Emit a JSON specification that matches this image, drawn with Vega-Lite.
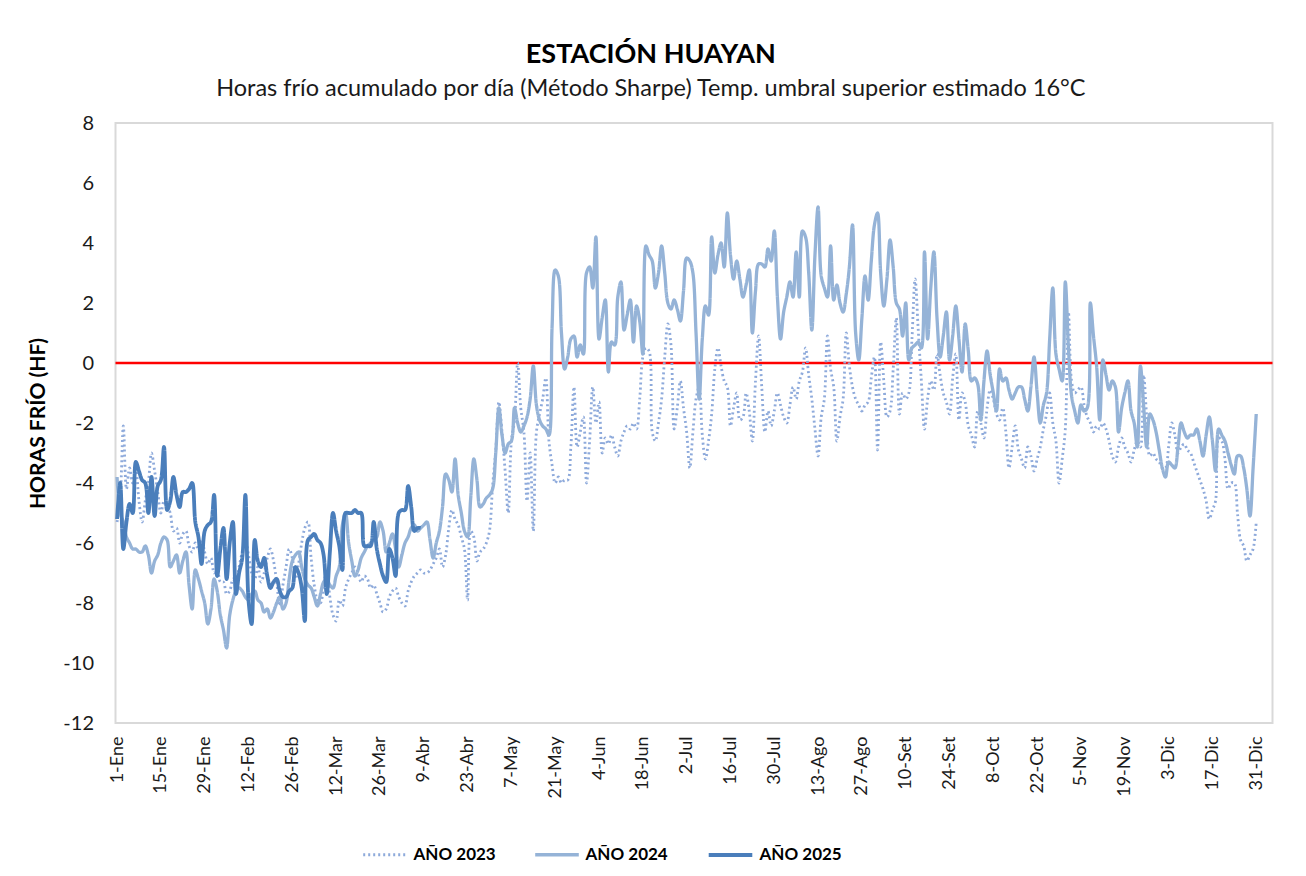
{
"$schema": "https://vega.github.io/schema/vega-lite/v6.json",
"width": 1157, "height": 600,
"autosize": "none",
"padding": {"left": 115.5, "top": 123, "right": 33.5, "bottom": 153},
"background": "white",
"config": {"view": {"stroke": "#D9D9D9", "strokeWidth": 2}, "font": "Lato"},
"title": {"text": "ESTACIÓN HUAYAN", "subtitle": "Horas frío acumulado por día (Método Sharpe) Temp. umbral superior estimado 16°C", "anchor": "middle", "frame": "bounds", "fontSize": 27, "fontWeight": "bold", "color": "#000000", "subtitleFontSize": 23.5, "subtitleColor": "#1a1a1a", "subtitlePadding": 8, "offset": 12},
"layer": [
{"data": {"values": [{"z": 0}]}, "mark": {"type": "rule", "color": "#FF0000", "strokeWidth": 2.5}, "encoding": {"y": {"field": "z", "type": "quantitative", "scale": {"domain": [-12, 8], "nice": false}}}},
{"data": {"values": [
{"d":0,"a":-5.3,"b":-3.8,"c":-5.2},{"d":1,"a":-4.5,"b":-5.0,"c":-4.0},{"d":2,"a":-2.1,"b":-5.3,"c":-6.2},{"d":3,"a":-4.2,"b":-5.8,"c":-5.3},{"d":4,"a":-3.5,"b":-6.0,"c":-4.7},{"d":5,"a":-4.0,"b":-6.2,"c":-5.0},{"d":6,"a":-3.6,"b":-6.2,"c":-3.3},{"d":7,"a":-4.6,"b":-6.3,"c":-3.6},{"d":8,"a":-5.3,"b":-6.3,"c":-3.9},{"d":9,"a":-4.6,"b":-6.1,"c":-4.0},
{"d":10,"a":-4.0,"b":-6.4,"c":-5.0},{"d":11,"a":-3.0,"b":-7.0,"c":-3.8},{"d":12,"a":-3.6,"b":-6.6,"c":-5.1},{"d":13,"a":-4.3,"b":-6.4,"c":-4.1},{"d":14,"a":-5.0,"b":-6.0,"c":-3.9},{"d":15,"a":-4.6,"b":-5.8,"c":-2.8},{"d":16,"a":-4.8,"b":-5.9,"c":-4.9},{"d":17,"a":-5.0,"b":-6.8,"c":-4.6},{"d":18,"a":-5.6,"b":-6.6,"c":-3.8},{"d":19,"a":-5.5,"b":-6.4,"c":-4.4},
{"d":20,"a":-6.0,"b":-7.0,"c":-4.8},{"d":21,"a":-5.7,"b":-6.6,"c":-4.3},{"d":22,"a":-5.6,"b":-6.3,"c":-4.3},{"d":23,"a":-6.1,"b":-7.4,"c":-4.2},{"d":24,"a":-6.3,"b":-8.2,"c":-4.0},{"d":25,"a":-6.0,"b":-6.9,"c":-5.3},{"d":26,"a":-6.2,"b":-7.2,"c":-5.8},{"d":27,"a":-5.9,"b":-7.6,"c":-6.7},{"d":28,"a":-6.3,"b":-8.0,"c":-5.6},{"d":29,"a":-6.7,"b":-8.7,"c":-5.4},
{"d":30,"a":-6.5,"b":-8.2,"c":-5.3},{"d":31,"a":-7.0,"b":-7.2,"c":-4.4},{"d":32,"a":-6.8,"b":-7.6,"c":-7.1},{"d":33,"a":-7.3,"b":-8.4,"c":-6.2},{"d":34,"a":-7.3,"b":-8.9,"c":-5.5},{"d":35,"a":-7.7,"b":-9.5,"c":-7.2},{"d":36,"a":-7.6,"b":-8.4,"c":-6.0},{"d":37,"a":-7.2,"b":-7.9,"c":-5.3},{"d":38,"a":-7.4,"b":-7.6,"c":-7.7},{"d":39,"a":-6.8,"b":-7.5,"c":-7.0},
{"d":40,"a":-6.3,"b":-7.6,"c":-6.5},{"d":41,"a":-5.9,"b":-7.8,"c":-4.4},{"d":42,"a":-6.4,"b":-7.9,"c":-7.9},{"d":43,"a":-7.0,"b":-7.7,"c":-8.7},{"d":44,"a":-7.2,"b":-7.6,"c":-5.9},{"d":45,"a":-6.8,"b":-7.9,"c":-6.6},{"d":46,"a":-7.3,"b":-8.0,"c":-6.8},{"d":47,"a":-7.0,"b":-8.3,"c":-6.5},{"d":48,"a":-6.5,"b":-8.2,"c":-7.1},{"d":49,"a":-6.2,"b":-8.5,"c":-7.5},
{"d":50,"a":-6.6,"b":-8.3,"c":-7.3},{"d":51,"a":-7.3,"b":-8.0,"c":-7.2},{"d":52,"a":-8.1,"b":-7.8,"c":-7.6},{"d":53,"a":-7.4,"b":-8.2,"c":-7.8},{"d":54,"a":-6.8,"b":-8.0,"c":-7.8},{"d":55,"a":-6.2,"b":-7.2,"c":-7.6},{"d":56,"a":-6.5,"b":-6.6,"c":-7.5},{"d":57,"a":-7.2,"b":-6.4,"c":-6.8},{"d":58,"a":-6.7,"b":-6.3,"c":-7.0},{"d":59,"a":-6.0,"b":-6.8,"c":-7.5},
{"d":60,"a":-5.5,"b":-7.2,"c":-8.6},{"d":61,"a":-5.3,"b":-7.4,"c":-5.9},{"d":62,"a":-6.5,"b":-7.5,"c":-5.8},{"d":63,"a":-7.4,"b":-7.8,"c":-5.7},{"d":64,"a":-7.9,"b":-8.1,"c":-5.9},{"d":65,"a":-8.0,"b":-7.7,"c":-6.0},{"d":66,"a":-7.4,"b":-7.3,"c":-6.4},{"d":67,"a":-6.9,"b":-7.2,"c":-7.7},{"d":68,"a":-7.8,"b":-7.4,"c":-6.3},{"d":69,"a":-8.4,"b":-7.5,"c":-5.0},
{"d":70,"a":-8.6,"b":-7.1,"c":-5.6},{"d":71,"a":-7.9,"b":-6.8,"c":-6.1},{"d":72,"a":-8.1,"b":-5.4,"c":-6.9},{"d":73,"a":-7.5,"b":-5.0,"c":-5.0},{"d":74,"a":-7.2,"b":-6.0,"c":-5.0},{"d":75,"a":-7.0,"b":-6.6,"c":-5.0},{"d":76,"a":-6.8,"b":-7.1,"c":-4.9},{"d":77,"a":-7.0,"b":-6.9,"c":-5.0},{"d":78,"a":-7.3,"b":-6.5,"c":-5.0},{"d":79,"a":-7.1,"b":-6.3,"c":-6.1},
{"d":80,"a":-7.2,"b":-6.1,"c":-6.1},{"d":81,"a":-7.5,"b":-6.0,"c":-6.1},{"d":82,"a":-7.4,"b":-5.9,"c":-5.3},{"d":83,"a":-7.7,"b":-5.8,"c":-6.2},{"d":84,"a":-8.0,"b":-5.3,"c":-6.7},{"d":85,"a":-8.3,"b":-5.6,"c":-7.1},{"d":86,"a":-8.2,"b":-6.3,"c":-7.3},{"d":87,"a":-7.8,"b":-6.0,"c":-6.2},{"d":88,"a":-7.6,"b":-5.7,"c":-6.5},{"d":89,"a":-7.5,"b":-6.2,"c":-7.1},
{"d":90,"a":-7.8,"b":-6.8,"c":-5.0},{"d":91,"a":-8.0,"b":-6.4,"c":-4.9},{"d":92,"a":-8.1,"b":-6.0,"c":-4.9},{"d":93,"a":-7.6,"b":-5.8,"c":-4.1},{"d":94,"a":-7.3,"b":-5.5,"c":-4.8},{"d":95,"a":-7.1,"b":-5.4,"c":-5.6},{"d":96,"a":-7.0,"b":-5.6,"c":-5.5},{"d":97,"a":-6.9,"b":-5.5,"c":-5.5},{"d":98,"a":-7.0,"b":-5.4},{"d":99,"a":-7.0,"b":-5.3},
{"d":100,"a":-6.9,"b":-5.9},{"d":101,"a":-6.7,"b":-6.5},{"d":102,"a":-6.5,"b":-6.0},{"d":103,"a":-6.2,"b":-5.6},{"d":104,"a":-6.8,"b":-4.8},{"d":105,"a":-6.4,"b":-3.7},{"d":106,"a":-5.5,"b":-3.9},{"d":107,"a":-4.9,"b":-4.3},{"d":108,"a":-5.2,"b":-3.2},{"d":109,"a":-5.4,"b":-4.4},
{"d":110,"a":-5.8,"b":-5.0},{"d":111,"a":-6.2,"b":-5.6},{"d":112,"a":-7.9,"b":-5.8},{"d":113,"a":-5.6,"b":-4.5},{"d":114,"a":-5.8,"b":-3.2},{"d":115,"a":-6.6,"b":-3.9},{"d":116,"a":-6.3,"b":-4.8},{"d":117,"a":-6.2,"b":-4.7},{"d":118,"a":-6.0,"b":-4.5},{"d":119,"a":-5.6,"b":-4.4},
{"d":120,"a":-4.1,"b":-4.2},{"d":121,"a":-2.9,"b":-3.0},{"d":122,"a":-1.3,"b":-1.5},{"d":123,"a":-2.3,"b":-2.4},{"d":124,"a":-3.6,"b":-3.0},{"d":125,"a":-5.0,"b":-2.7},{"d":126,"a":-2.6,"b":-2.6},{"d":127,"a":-1.9,"b":-1.5},{"d":128,"a":0.0,"b":-2.0},{"d":129,"a":-1.5,"b":-2.3},
{"d":130,"a":-2.3,"b":-2.1},{"d":131,"a":-4.6,"b":-1.8},{"d":132,"a":-3.0,"b":-1.2},{"d":133,"a":-5.6,"b":-0.1},{"d":134,"a":-2.3,"b":-1.4},{"d":135,"a":-1.7,"b":-1.9},{"d":136,"a":-1.2,"b":-2.1},{"d":137,"a":-0.5,"b":-2.2},{"d":138,"a":-2.6,"b":-2.4},{"d":139,"a":-3.4,"b":1.2},
{"d":140,"a":-4.0,"b":3.1},{"d":141,"a":-3.8,"b":2.9},{"d":142,"a":-4.0,"b":1.0},{"d":143,"a":-3.9,"b":-0.2},{"d":144,"a":-3.9,"b":0.2},{"d":145,"a":-2.8,"b":0.8},{"d":146,"a":-0.8,"b":0.9},{"d":147,"a":-2.8,"b":0.2},{"d":148,"a":-2.3,"b":0.6},{"d":149,"a":-1.8,"b":0.3},
{"d":150,"a":-4.0,"b":3.0},{"d":151,"a":-2.6,"b":3.2},{"d":152,"a":-0.8,"b":2.5},{"d":153,"a":-2.0,"b":4.2},{"d":154,"a":-1.3,"b":0.8},{"d":155,"a":-3.0,"b":1.5},{"d":156,"a":-2.5,"b":2.1},{"d":157,"a":-2.7,"b":-0.3},{"d":158,"a":-2.4,"b":0.7},{"d":159,"a":-2.8,"b":0.6},
{"d":160,"a":-3.1,"b":2.2},{"d":161,"a":-2.6,"b":2.7},{"d":162,"a":-2.3,"b":1.1},{"d":163,"a":-2.1,"b":1.6},{"d":164,"a":-2.2,"b":2.1},{"d":165,"a":-2.0,"b":0.7},{"d":166,"a":-2.2,"b":1.9},{"d":167,"a":-1.2,"b":1.4},{"d":168,"a":0.2,"b":0.3},{"d":169,"a":0.5,"b":3.9},
{"d":170,"a":0.4,"b":3.6},{"d":171,"a":-2.3,"b":3.4},{"d":172,"a":-2.6,"b":2.5},{"d":173,"a":-2.0,"b":3.0},{"d":174,"a":-1.2,"b":3.9},{"d":175,"a":0.2,"b":3.0},{"d":176,"a":1.3,"b":2.0},{"d":177,"a":0.6,"b":1.8},{"d":178,"a":-2.2,"b":2.1},{"d":179,"a":-1.5,"b":1.8},
{"d":180,"a":-0.6,"b":1.4},{"d":181,"a":-1.5,"b":2.4},{"d":182,"a":-2.3,"b":3.5},{"d":183,"a":-3.5,"b":3.4},{"d":184,"a":-2.3,"b":3.0},{"d":185,"a":-1.2,"b":1.0},{"d":186,"a":-0.8,"b":-1.2},{"d":187,"a":-2.4,"b":0.8},{"d":188,"a":-3.2,"b":1.9},{"d":189,"a":-2.6,"b":1.6},
{"d":190,"a":-1.7,"b":4.2},{"d":191,"a":-0.2,"b":3.0},{"d":192,"a":0.5,"b":3.6},{"d":193,"a":-0.1,"b":4.0},{"d":194,"a":-0.6,"b":3.2},{"d":195,"a":-0.8,"b":5.0},{"d":196,"a":-2.1,"b":3.6},{"d":197,"a":-1.5,"b":2.8},{"d":198,"a":-1.0,"b":3.4},{"d":199,"a":-1.9,"b":2.8},
{"d":200,"a":-1.8,"b":2.2},{"d":201,"a":-1.0,"b":2.6},{"d":202,"a":-1.6,"b":3.1},{"d":203,"a":-2.6,"b":1.0},{"d":204,"a":-0.6,"b":2.4},{"d":205,"a":0.9,"b":3.3},{"d":206,"a":-0.8,"b":3.3},{"d":207,"a":-2.3,"b":3.2},{"d":208,"a":-1.6,"b":3.8},{"d":209,"a":-2.1,"b":3.4},
{"d":210,"a":-1.6,"b":4.4},{"d":211,"a":-1.0,"b":2.2},{"d":212,"a":-1.4,"b":0.8},{"d":213,"a":-1.8,"b":1.7},{"d":214,"a":-2.0,"b":2.2},{"d":215,"a":-1.4,"b":2.7},{"d":216,"a":-0.8,"b":2.2},{"d":217,"a":-1.2,"b":3.7},{"d":218,"a":-0.6,"b":2.2},{"d":219,"a":-0.3,"b":4.4},
{"d":220,"a":0.5,"b":4.2},{"d":221,"a":-0.4,"b":3.0},{"d":222,"a":-1.2,"b":1.1},{"d":223,"a":-2.2,"b":3.6},{"d":224,"a":-3.1,"b":5.2},{"d":225,"a":-1.8,"b":2.9},{"d":226,"a":-1.2,"b":2.5},{"d":227,"a":0.9,"b":2.2},{"d":228,"a":-0.2,"b":3.9},{"d":229,"a":-0.8,"b":2.1},
{"d":230,"a":-2.6,"b":2.6},{"d":231,"a":-1.8,"b":2.0},{"d":232,"a":-1.2,"b":1.7},{"d":233,"a":1.0,"b":2.3},{"d":234,"a":-0.1,"b":3.2},{"d":235,"a":-0.8,"b":4.6},{"d":236,"a":-1.2,"b":1.0},{"d":237,"a":-1.4,"b":0.1},{"d":238,"a":-1.6,"b":1.5},{"d":239,"a":-1.4,"b":2.9},
{"d":240,"a":-1.3,"b":2.1},{"d":241,"a":-0.5,"b":3.4},{"d":242,"a":0.2,"b":4.6},{"d":243,"a":-2.9,"b":5.0},{"d":244,"a":0.7,"b":3.0},{"d":245,"a":-0.6,"b":1.9},{"d":246,"a":-1.8,"b":2.8},{"d":247,"a":-1.6,"b":4.1},{"d":248,"a":-0.2,"b":3.2},{"d":249,"a":1.5,"b":2.0},
{"d":250,"a":-1.7,"b":1.8},{"d":251,"a":-1.0,"b":0.9},{"d":252,"a":-1.2,"b":2.0},{"d":253,"a":-1.0,"b":0.1},{"d":254,"a":0.8,"b":0.5},{"d":255,"a":2.8,"b":0.6},{"d":256,"a":1.1,"b":0.7},{"d":257,"a":-0.6,"b":0.5},{"d":258,"a":-2.2,"b":3.7},{"d":259,"a":-1.2,"b":0.8},
{"d":260,"a":-0.6,"b":2.5},{"d":261,"a":-0.9,"b":3.7},{"d":262,"a":0.3,"b":1.5},{"d":263,"a":-0.4,"b":0.2},{"d":264,"a":-1.0,"b":0.9},{"d":265,"a":-1.3,"b":1.7},{"d":266,"a":-1.7,"b":0.1},{"d":267,"a":-0.5,"b":0.9},{"d":268,"a":0.3,"b":1.9},{"d":269,"a":-1.9,"b":0.8},
{"d":270,"a":-1.0,"b":-0.3},{"d":271,"a":-1.3,"b":1.3},{"d":272,"a":-2.1,"b":0.4},{"d":273,"a":-2.4,"b":-0.6},{"d":274,"a":-2.8,"b":-0.5},{"d":275,"a":-1.6,"b":-0.7},{"d":276,"a":-2.0,"b":-1.9},{"d":277,"a":-2.5,"b":-0.6},{"d":278,"a":-1.5,"b":0.4},{"d":279,"a":-0.9,"b":-0.4},
{"d":280,"a":-1.2,"b":-1.0},{"d":281,"a":-1.7,"b":-1.6},{"d":282,"a":-1.9,"b":-0.2},{"d":283,"a":-1.5,"b":-0.6},{"d":284,"a":-2.3,"b":-0.5},{"d":285,"a":-3.5,"b":-0.9},{"d":286,"a":-2.8,"b":-1.2},{"d":287,"a":-2.1,"b":-1.0},{"d":288,"a":-2.9,"b":-0.8},{"d":289,"a":-3.2,"b":-0.8},
{"d":290,"a":-3.5,"b":-1.2},{"d":291,"a":-2.8,"b":-1.6},{"d":292,"a":-3.1,"b":-0.8},{"d":293,"a":-3.6,"b":0.2},{"d":294,"a":-3.2,"b":-1.0},{"d":295,"a":-2.8,"b":-2.0},{"d":296,"a":-2.2,"b":-1.4},{"d":297,"a":-1.7,"b":-1.0},{"d":298,"a":-1.0,"b":0.8},{"d":299,"a":-2.0,"b":2.5},
{"d":300,"a":-2.6,"b":0.3},{"d":301,"a":-4.0,"b":-0.2},{"d":302,"a":-3.2,"b":-0.6},{"d":303,"a":-2.2,"b":2.7},{"d":304,"a":1.7,"b":0.5},{"d":305,"a":-0.6,"b":-1.1},{"d":306,"a":-1.0,"b":-1.6},{"d":307,"a":-0.9,"b":-2.0},{"d":308,"a":-0.8,"b":-1.4},{"d":309,"a":-1.4,"b":-1.6},
{"d":310,"a":-1.8,"b":-1.5},{"d":311,"a":-2.0,"b":2.0},{"d":312,"a":-2.3,"b":0.9},{"d":313,"a":-2.1,"b":-0.1},{"d":314,"a":-2.2,"b":-1.9},{"d":315,"a":-2.0,"b":0.1},{"d":316,"a":-2.2,"b":-0.4},{"d":317,"a":-2.6,"b":-0.9},{"d":318,"a":-3.1,"b":-0.6},{"d":319,"a":-3.3,"b":-0.8},
{"d":320,"a":-2.8,"b":-2.3},{"d":321,"a":-2.5,"b":-1.5},{"d":322,"a":-2.8,"b":-1.0},{"d":323,"a":-3.0,"b":-0.6},{"d":324,"a":-3.3,"b":-1.6},{"d":325,"a":-2.9,"b":-2.0},{"d":326,"a":-2.6,"b":-2.8},{"d":327,"a":-2.8,"b":-0.1},{"d":328,"a":-0.4,"b":-1.4},{"d":329,"a":-1.8,"b":-2.8},
{"d":330,"a":-3.1,"b":-1.7},{"d":331,"a":-3.0,"b":-1.9},{"d":332,"a":-3.2,"b":-2.3},{"d":333,"a":-3.3,"b":-2.9},{"d":334,"a":-3.5,"b":-3.5},{"d":335,"a":-3.5,"b":-3.8},{"d":336,"a":-2.8,"b":-3.3},{"d":337,"a":-2.0,"b":-3.4},{"d":338,"a":-2.4,"b":-3.5},{"d":339,"a":-3.0,"b":-2.8},
{"d":340,"a":-2.8,"b":-2.0},{"d":341,"a":-2.7,"b":-2.3},{"d":342,"a":-2.9,"b":-2.5},{"d":343,"a":-3.0,"b":-2.4},{"d":344,"a":-3.3,"b":-2.4},{"d":345,"a":-3.6,"b":-2.2},{"d":346,"a":-3.9,"b":-2.6},{"d":347,"a":-4.2,"b":-3.1},{"d":348,"a":-4.6,"b":-2.4},{"d":349,"a":-5.2,"b":-1.8},
{"d":350,"a":-4.9,"b":-2.6},{"d":351,"a":-4.6,"b":-3.6},{"d":352,"a":-2.5,"b":-2.2},{"d":353,"a":-2.6,"b":-2.4},{"d":354,"a":-3.2,"b":-2.6},{"d":355,"a":-4.2,"b":-3.0},{"d":356,"a":-4.0,"b":-3.4},{"d":357,"a":-4.0,"b":-3.7},{"d":358,"a":-5.0,"b":-3.1},{"d":359,"a":-5.9,"b":-3.1},
{"d":360,"a":-6.1,"b":-3.5},{"d":361,"a":-6.6,"b":-4.2},{"d":362,"a":-6.4,"b":-5.1},{"d":363,"a":-6.2,"b":-3.5},{"d":364,"a":-5.3,"b":-1.7}
]},
"transform": [{"fold": ["a", "b", "c"], "as": ["s", "v"]}, {"filter": "isValid(datum.v)"}],
"mark": {"type": "line", "interpolate": "catmull-rom", "strokeJoin": "round"},
"encoding": {
"x": {"field": "d", "type": "quantitative", "scale": {"domain": [-0.5, 369.2], "nice": false, "zero": false},
 "axis": {"title": null, "values": [0,14,28,42,56,70,84,98,112,126,140,154,168,182,196,210,224,238,252,266,280,294,308,322,336,350,364],
  "labelExpr": "['1-Ene','15-Ene','29-Ene','12-Feb','26-Feb','12-Mar','26-Mar','9-Abr','23-Abr','7-May','21-May','4-Jun','18-Jun','2-Jul','16-Jul','30-Jul','13-Ago','27-Ago','10-Set','24-Set','8-Oct','22-Oct','5-Nov','19-Nov','3-Dic','17-Dic','31-Dic'][round(datum.value/14)]",
  "labelAngle": -90, "labelFontSize": 18, "labelColor": "#1a1a1a", "labelPadding": 13, "ticks": false, "domain": false, "grid": false, "labelOverlap": false, "labelFlush": false}},
"y": {"field": "v", "type": "quantitative", "scale": {"domain": [-12, 8], "nice": false},
 "axis": {"title": "HORAS  FRÍO (HF)", "values": [-12,-10,-8,-6,-4,-2,0,2,4,6,8], "labelExpr": "'' + datum.value", "labelFontSize": 20, "labelColor": "#1a1a1a", "labelPadding": 22, "ticks": false, "domain": false, "grid": false, "titleFontSize": 21, "titleFontWeight": "bold", "titleColor": "#000000", "titlePadding": 14}},
"color": {"field": "s", "type": "ordinal", "scale": {"domain": ["a", "b", "c"], "range": ["#8EAADB", "#95B3D7", "#4A7EBB"]},
 "legend": {"orient": "none", "legendX": 246, "legendY": 708, "direction": "horizontal", "title": null, "labelExpr": "{'a':'AÑO 2023','b':'AÑO 2024','c':'AÑO 2025'}[datum.label]", "labelFontSize": 17, "labelFontWeight": "bold", "labelColor": "#000000", "symbolType": "stroke", "symbolSize": 1900, "columnPadding": 32, "labelOffset": 5}},
"strokeDash": {"field": "s", "type": "ordinal", "scale": {"domain": ["a", "b", "c"], "range": [[2, 3], [1, 0], [1, 0]]},
 "legend": {"orient": "none", "legendX": 246, "legendY": 708, "direction": "horizontal", "title": null, "labelExpr": "{'a':'AÑO 2023','b':'AÑO 2024','c':'AÑO 2025'}[datum.label]", "labelFontSize": 17, "labelFontWeight": "bold", "labelColor": "#000000", "symbolType": "stroke", "symbolSize": 1900, "columnPadding": 32, "labelOffset": 5}},
"strokeWidth": {"field": "s", "type": "ordinal", "scale": {"domain": ["a", "b", "c"], "range": [2.8, 3.8, 3.8]},
 "legend": {"orient": "none", "legendX": 246, "legendY": 708, "direction": "horizontal", "title": null, "labelExpr": "{'a':'AÑO 2023','b':'AÑO 2024','c':'AÑO 2025'}[datum.label]", "labelFontSize": 17, "labelFontWeight": "bold", "labelColor": "#000000", "symbolType": "stroke", "symbolSize": 1900, "columnPadding": 32, "labelOffset": 5}}
}}
]
}
